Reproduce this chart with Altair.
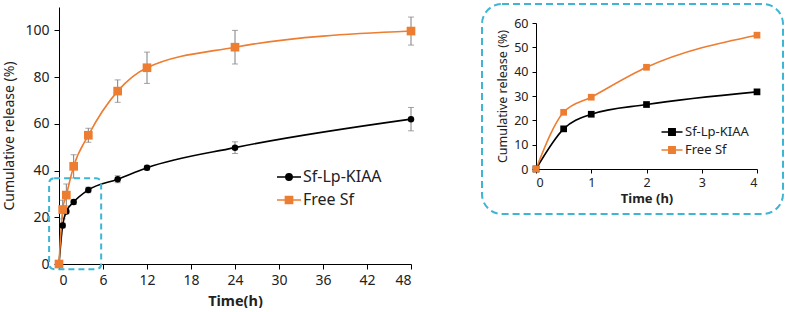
import altair as alt
import pandas as pd

# ---------------- data ----------------
series = ["Sf-Lp-KIAA", "Free Sf"]
colors = ["#000000", "#ED7D31"]

times = [0, 0.5, 1, 2, 4, 8, 12, 24, 48]
kiaa = [0, 16.5, 22.5, 26.5, 31.7, 36.3, 41.2, 49.8, 62.0]
kiaa_err = [0, 1.0, 1.0, 1.0, 1.2, 1.5, 1.0, 2.5, 5.0]
free = [0, 23.3, 29.5, 41.8, 55.1, 74.0, 84.0, 92.8, 99.7]
free_err = [0, 4.0, 4.7, 5.0, 3.0, 4.8, 6.7, 7.2, 6.0]

x_ticks = [0, 6, 12, 18, 24, 30, 36, 42, 48]
y_ticks = [0, 20, 40, 60, 80, 100]

inset_times = [0, 0.5, 1, 2, 4]
inset_kiaa = [0, 16.5, 22.5, 26.5, 31.7]
inset_free = [0, 23.3, 29.5, 41.8, 55.0]
inset_x_ticks = [0, 1, 2, 3, 4]
inset_y_ticks = [0, 10, 20, 30, 40, 50, 60]

# region of the main chart that the inset enlarges (data units)
box_x = [-1.35, 5.75]
box_y = [-2.2, 36.7]

FONT = "Noto Sans"
CYAN = "#3DB5D5"
ERR = "#7F7F7F"

# legend symbols: line + marker
CIRCLE_LINE = "M-1.2,0H1.2M0.32,0A0.32,0.32,0,1,1,-0.32,0A0.32,0.32,0,1,1,0.32,0Z"
SQUARE_LINE = "M-1.2,0H1.2M-0.36,-0.36H0.36V0.36H-0.36Z"
SQUARE_LINE_S = "M-1.05,0H1.05M-0.32,-0.32H0.32V0.32H-0.32Z"

# ---------------- tables ----------------
rows = []
for name, vals, errs in [(series[0], kiaa, kiaa_err), (series[1], free, free_err)]:
    for t, v, e in zip(times, vals, errs):
        rows.append({"time": t, "value": v, "err": e, "lo": v - e, "hi": v + e, "series": name})
df = pd.DataFrame(rows)
df_err = df[df["err"] > 0]

irows = []
for name, vals in [(series[0], inset_kiaa), (series[1], inset_free)]:
    for t, v in zip(inset_times, vals):
        irows.append({"time": t, "value": v, "series": name})
dfi = pd.DataFrame(irows)

box_df = pd.DataFrame([{"x0": box_x[0], "x1": box_x[1], "y0": box_y[0], "y1": box_y[1]}])

# ---------------- main chart ----------------
xs = alt.Scale(domain=[0, 48], nice=False, zero=False)
ys = alt.Scale(domain=[0, 110], nice=False)
xaxis = alt.Axis(values=x_ticks, title="Time(h)", labelFontSize=14, titleFontSize=14.5,
                 titleFontWeight="bold", tickSize=5, labelPadding=4, titlePadding=7,
                 grid=False, domainColor="black", tickColor="black", labelColor="#222",
                 titleColor="#222")
yaxis = alt.Axis(values=y_ticks, title="Cumulative release (%)", labelFontSize=14,
                 titleFontSize=14, titleFontWeight="normal", tickSize=5, labelPadding=5,
                 titlePadding=8, grid=False, domainColor="black", tickColor="black",
                 labelColor="#222", titleColor="#222")

base = alt.Chart(df)
X = alt.X("time:Q", scale=xs, axis=xaxis)
Y = alt.Y("value:Q", scale=ys, axis=yaxis)
is_k = alt.datum.series == series[0]
is_f = alt.datum.series == series[1]

err_rule = alt.Chart(df_err).mark_rule(color=ERR, strokeWidth=1).encode(
    x=alt.X("time:Q", scale=xs), y=alt.Y("lo:Q", scale=ys), y2="hi:Q")
err_lo = alt.Chart(df_err).mark_tick(color=ERR, thickness=1, size=6, orient="horizontal").encode(
    x=alt.X("time:Q", scale=xs), y=alt.Y("lo:Q", scale=ys))
err_hi = alt.Chart(df_err).mark_tick(color=ERR, thickness=1, size=6, orient="horizontal").encode(
    x=alt.X("time:Q", scale=xs), y=alt.Y("hi:Q", scale=ys))

line_k = base.transform_filter(is_k).mark_line(
    interpolate="monotone", strokeWidth=1.6, color=colors[0]).encode(x=X, y=Y)
line_f = base.transform_filter(is_f).mark_line(
    interpolate="monotone", strokeWidth=1.6, color=colors[1]).encode(x=X, y=Y)

leg_main = dict(orient="none", legendX=219, legendY=159, title=None, labelFontSize=16,
                labelColor="#222", symbolSize=400, symbolStrokeWidth=1.5, symbolOpacity=1,
                rowPadding=4, labelOffset=3)
# layer that carries the legend (tiny symbols, hidden under the real markers)
legend_layer = base.mark_point(filled=True, size=8, strokeWidth=1).encode(
    x=X, y=Y,
    shape=alt.Shape("series:N", scale=alt.Scale(domain=series, range=[CIRCLE_LINE, SQUARE_LINE]),
                    legend=alt.Legend(**leg_main)),
    fill=alt.Fill("series:N", scale=alt.Scale(domain=series, range=colors),
                  legend=alt.Legend(**leg_main)),
    stroke=alt.Stroke("series:N", scale=alt.Scale(domain=series, range=colors),
                      legend=alt.Legend(**leg_main)),
)
pts_k = base.transform_filter(is_k).mark_point(
    shape="circle", filled=True, color=colors[0], size=42, opacity=1).encode(x=X, y=Y)
pts_f = base.transform_filter(is_f).mark_point(
    shape="square", filled=True, color=colors[1], size=75, opacity=1).encode(x=X, y=Y)

box = alt.Chart(box_df).mark_rect(filled=False, stroke=CYAN, strokeWidth=2, strokeDash=[6, 4],
                                  cornerRadius=5, clip=False).encode(
    x=alt.X("x0:Q", scale=xs), x2="x1:Q", y=alt.Y("y0:Q", scale=ys), y2="y1:Q")

main = alt.layer(err_rule, err_lo, err_hi, line_k, line_f, legend_layer, pts_k, pts_f, box
                 ).properties(width=352, height=257)

# ---------------- inset chart ----------------
xsi = alt.Scale(domain=[0, 4], nice=False, zero=False)
ysi = alt.Scale(domain=[0, 60], nice=False, range=[162, 16])
xaxis_i = alt.Axis(values=inset_x_ticks, title="Time (h)", labelFontSize=12.5, titleFontSize=13,
                   titleFontWeight="bold", tickSize=4, labelPadding=3, titlePadding=4, grid=False,
                   domainColor="black", tickColor="black", labelColor="#222", titleColor="#222")
yaxis_i = alt.Axis(values=inset_y_ticks, title="Cumulative release (%)", labelFontSize=12.5,
                   titleFontSize=12.5, titleFontWeight="normal", tickSize=4, labelPadding=4,
                   titlePadding=4, grid=False, domainColor="black", tickColor="black",
                   labelColor="#222", titleColor="#222")
bi = alt.Chart(dfi)
Xi = alt.X("time:Q", scale=xsi, axis=xaxis_i)
Yi = alt.Y("value:Q", scale=ysi, axis=yaxis_i)

iline_k = bi.transform_filter(is_k).mark_line(
    interpolate="monotone", strokeWidth=1.6, color=colors[0]).encode(x=Xi, y=Yi)
iline_f = bi.transform_filter(is_f).mark_line(
    interpolate="monotone", strokeWidth=1.6, color=colors[1]).encode(x=Xi, y=Yi)

leg_in = dict(orient="none", legendX=125, legendY=114, title=None, labelFontSize=13,
              labelColor="#222", symbolSize=400, symbolStrokeWidth=1.5, symbolOpacity=1,
              rowPadding=0, labelOffset=2)
legend_i = bi.mark_point(filled=True, size=8, strokeWidth=1).encode(
    x=Xi, y=Yi,
    shape=alt.Shape("series:N", scale=alt.Scale(domain=series, range=[SQUARE_LINE_S, SQUARE_LINE_S]),
                    legend=alt.Legend(**leg_in)),
    fill=alt.Fill("series:N", scale=alt.Scale(domain=series, range=colors),
                  legend=alt.Legend(**leg_in)),
    stroke=alt.Stroke("series:N", scale=alt.Scale(domain=series, range=colors),
                      legend=alt.Legend(**leg_in)),
)
ipts_k = bi.transform_filter(is_k).mark_point(
    shape="square", filled=True, color=colors[0], size=45, opacity=1).encode(x=Xi, y=Yi)
ipts_f = bi.transform_filter(is_f).mark_point(
    shape="square", filled=True, color=colors[1], size=45, opacity=1).encode(x=Xi, y=Yi)

frame = alt.Chart(alt.Data(values=[{"k": 1}])).mark_rect(
    filled=False, stroke=CYAN, strokeWidth=2, strokeDash=[7, 4], cornerRadius=20, clip=False
).encode(x=alt.value(-54), x2=alt.value(247), y=alt.value(-3), y2=alt.value(207))

inset = alt.layer(iline_k, iline_f, legend_i, ipts_k, ipts_f, frame).properties(
    width=221, height=162)

chart = alt.hconcat(main, inset, spacing=65).resolve_scale(
    fill="independent", stroke="independent", shape="independent"
).resolve_legend(
    fill="independent", stroke="independent", shape="independent"
).properties(
    padding={"left": 2, "top": 3, "right": 3, "bottom": 0}
).configure(font=FONT).configure_view(stroke=None)

chart.save("out.html", embed_options={"renderer": "svg", "actions": False})
